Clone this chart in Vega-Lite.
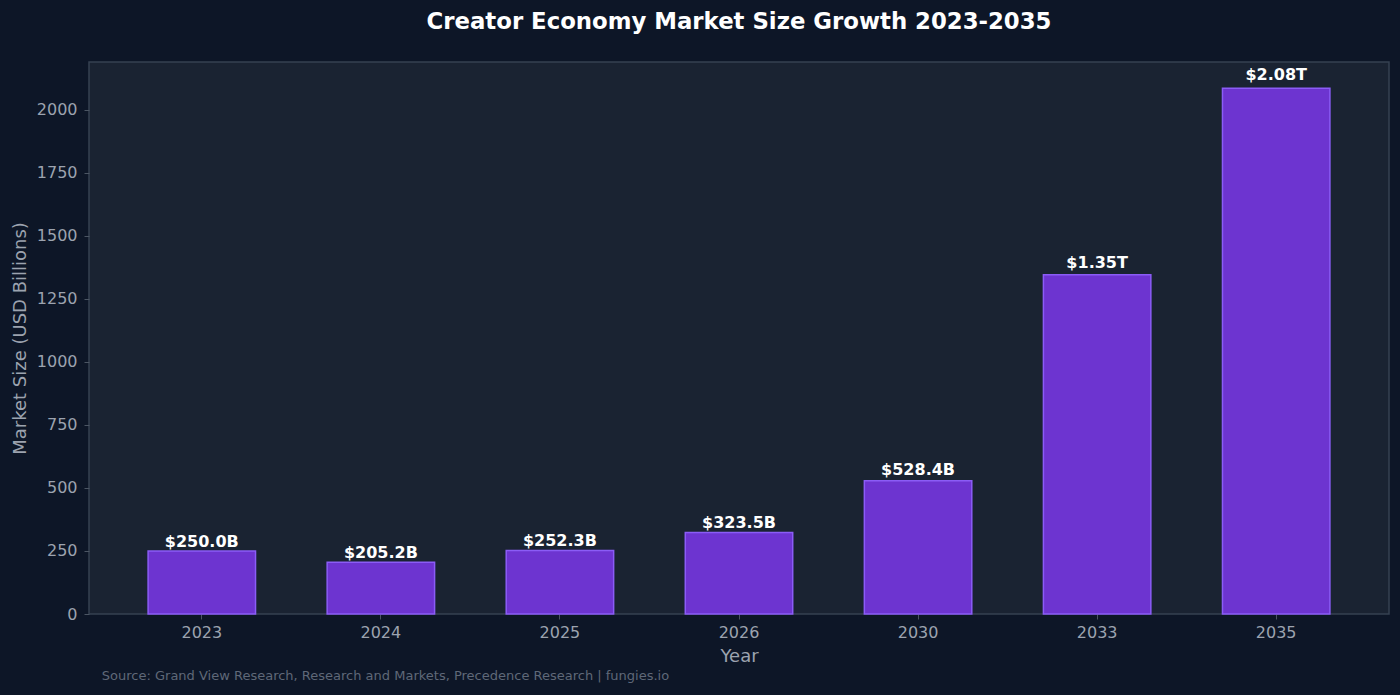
{
  "$schema": "https://vega.github.io/schema/vega-lite/v6.json",
  "width": 1300,
  "height": 552,
  "autosize": "none",
  "padding": {"left": 89, "top": 62, "right": 11, "bottom": 81},
  "background": "#0d1627",
  "title": {
    "text": "Creator Economy Market Size Growth 2023-2035",
    "font": "DejaVu Sans",
    "fontSize": 22.8,
    "fontWeight": "bold",
    "color": "#ffffff",
    "anchor": "middle",
    "offset": 28
  },
  "view": {"fill": "#1a2332", "stroke": "#364152", "strokeWidth": 1.5},
  "datasets": {
    "market": [
      {"year": "2023", "size": 250.0, "labelAt": 250, "label": "$250.0B"},
      {"year": "2024", "size": 205.2, "labelAt": 205.2, "label": "$205.2B"},
      {"year": "2025", "size": 252.3, "labelAt": 252.3, "label": "$252.3B"},
      {"year": "2026", "size": 323.5, "labelAt": 323.5, "label": "$323.5B"},
      {"year": "2030", "size": 528.4, "labelAt": 534, "label": "$528.4B"},
      {"year": "2033", "size": 1346, "labelAt": 1356, "label": "$1.35T"},
      {"year": "2035", "size": 2086, "labelAt": 2104, "label": "$2.08T"}
    ],
    "note": [
      {"year": "2023", "pos": -245, "text": "Source: Grand View Research, Research and Markets, Precedence Research | fungies.io"}
    ]
  },
  "encoding": {
    "x": {
      "field": "year",
      "type": "ordinal",
      "sort": null,
      "title": "Year",
      "scale": {"paddingInner": 0.4, "paddingOuter": 0.33},
      "axis": {
        "labelAngle": 0,
        "labelFont": "DejaVu Sans",
        "labelFontSize": 16,
        "labelColor": "#9ca3af",
        "labelPadding": 5,
        "titleFont": "DejaVu Sans",
        "titleFontSize": 18,
        "titleFontWeight": "normal",
        "titleColor": "#9ca3af",
        "titlePadding": 7,
        "tickColor": "#4b5563",
        "tickSize": 5,
        "domain": false
      }
    }
  },
  "layer": [
    {
      "data": {"name": "market"},
      "mark": {"type": "bar", "color": "#6d34d0", "stroke": "#8b5cf6", "strokeWidth": 1.5},
      "encoding": {
        "y": {
          "field": "size",
          "type": "quantitative",
          "title": "Market Size (USD Billions)",
          "scale": {"domain": [0, 2190], "nice": false},
          "axis": {
            "values": [0, 250, 500, 750, 1000, 1250, 1500, 1750, 2000],
            "format": "d",
            "grid": false,
            "domain": false,
            "labelFont": "DejaVu Sans",
            "labelFontSize": 16,
            "labelColor": "#9ca3af",
            "labelPadding": 7,
            "titleFont": "DejaVu Sans",
            "titleFontSize": 18,
            "titleFontWeight": "normal",
            "titleColor": "#9ca3af",
            "titlePadding": 7,
            "tickColor": "#4b5563",
            "tickSize": 5
          }
        }
      }
    },
    {
      "data": {"name": "market"},
      "mark": {"type": "text", "font": "DejaVu Sans", "fontSize": 16, "fontWeight": "bold", "color": "#ffffff", "baseline": "bottom", "dy": -1},
      "encoding": {
        "y": {"field": "labelAt", "type": "quantitative"},
        "text": {"field": "label"}
      }
    },
    {
      "data": {"name": "note"},
      "mark": {"type": "text", "font": "DejaVu Sans", "fontSize": 13, "color": "#5f6878", "align": "left", "baseline": "middle", "clip": false, "dx": -100},
      "encoding": {
        "y": {"field": "pos", "type": "quantitative"},
        "text": {"field": "text"}
      }
    }
  ]
}
